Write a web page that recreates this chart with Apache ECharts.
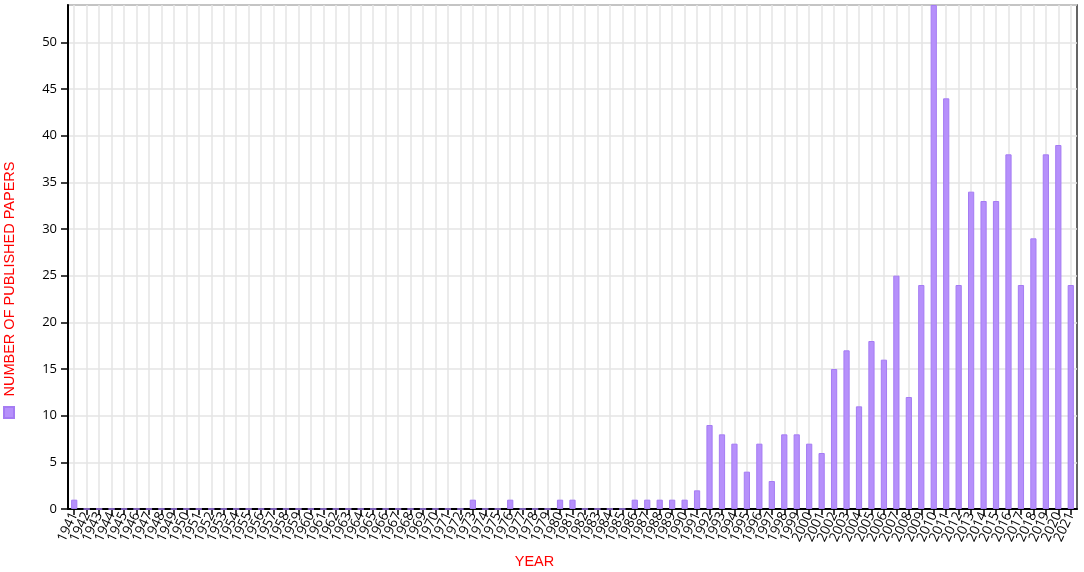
<!DOCTYPE html>
<html>
<head>
<meta charset="utf-8">
<script src="https://cdn.jsdelivr.net/npm/echarts@6/dist/echarts.min.js"></script>
<style>
html,body{margin:0;padding:0;background:#fff;}
#chart{width:1084px;height:572px;}
</style>
</head>
<body>
<div id="chart"></div>
<script>
const years = [];
for (let y = 1941; y <= 2021; y++) years.push(String(y));

const papers = [
  1, 0, 0, 0, 0, 0, 0, 0, 0, 0,      // 1941-1950
  0, 0, 0, 0, 0, 0, 0, 0, 0, 0,      // 1951-1960
  0, 0, 0, 0, 0, 0, 0, 0, 0, 0,      // 1961-1970
  0, 0, 1, 0, 0, 1, 0, 0, 0, 1,      // 1971-1980
  1, 0, 0, 0, 0, 1, 1, 1, 1, 1,      // 1981-1990
  2, 9, 8, 7, 4, 7, 3, 8, 8, 7,      // 1991-2000
  6, 15, 17, 11, 18, 16, 25, 12, 24, 54, // 2001-2010
  44, 24, 34, 33, 33, 38, 24, 29, 38, 39, // 2011-2020
  24                                  // 2021
];

const yMax = 54;
const yTickStep = 5;
const seriesName = 'NUMBER OF PUBLISHED PAPERS';
const xName = 'YEAR';

const chart = echarts.init(document.getElementById('chart'), null, {renderer: 'canvas'});
const font = 'Open Sans';

chart.setOption({
  animation: false,
  backgroundColor: '#ffffff',
  grid: {
    left: 68, right: 7, top: 5, bottom: 63,
    show: true, borderColor: '#333', borderWidth: 1.5, backgroundColor: 'transparent'
  },
  legend: {
    data: [seriesName],
    left: 3, top: 406, padding: 0,
    orient: 'vertical',
    itemWidth: 10, itemHeight: 11,
    icon: 'rect',
    formatter: function () { return ''; },
    textStyle: {fontSize: 1},
    selectedMode: false
  },
  graphic: [
    {
      type: 'text', x: 9.5, y: 279, rotation: Math.PI / 2,
      style: {text: seriesName, fill: '#ff0000', font: '14.5px "Liberation Sans"', align: 'center', verticalAlign: 'middle'}
    },
    {
      type: 'text', x: 534.5, y: 561.5,
      style: {text: xName, fill: '#ff0000', font: '14.5px "Liberation Sans"', align: 'center', verticalAlign: 'middle'}
    }
  ],
  xAxis: {
    type: 'category',
    data: years,
    boundaryGap: true,
    axisLine: {show: true, lineStyle: {color: '#000', width: 2}},
    axisTick: {show: true, alignWithLabel: true, interval: 0, length: 6, lineStyle: {color: '#000', width: 1.5}},
    axisLabel: {interval: 0, rotate: 65, margin: 4, color: '#000', fontSize: 13.5, fontFamily: font},
    splitLine: {show: true, alignWithLabel: true, interval: 0, lineStyle: {color: '#e4e4e4', width: 1.5}}
  },
  yAxis: {
    type: 'value',
    min: 0, max: yMax, interval: yTickStep,
    axisLine: {show: true, lineStyle: {color: '#000', width: 2}},
    axisTick: {show: true, length: 7, lineStyle: {color: '#000', width: 1.5}},
    axisLabel: {color: '#000', fontSize: 13, fontFamily: font, margin: 11, showMaxLabel: false},
    splitLine: {show: true, lineStyle: {color: '#e4e4e4', width: 1.5}}
  },
  series: [{
    name: seriesName,
    type: 'bar',
    data: papers,
    barWidth: '50%',
    itemStyle: {color: '#b690fb', borderColor: '#a57cf3', borderWidth: 1}
  }]
});
</script>
</body>
</html>
